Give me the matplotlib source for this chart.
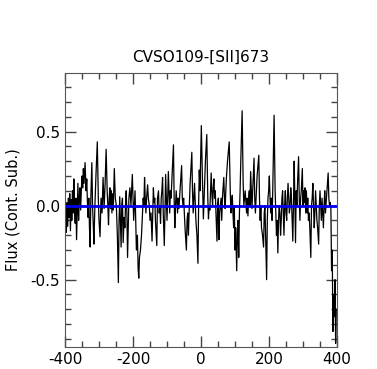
import numpy as np
import matplotlib
matplotlib.use("Agg")
import matplotlib.pyplot as plt
from matplotlib.ticker import MultipleLocator

plt.rcParams['axes.unicode_minus'] = False

# velocity (km/s) and continuum-subtracted flux
vel = [-400, -398, -396, -394, -392, -390, -388, -386, -384, -382, -380, -378, -376, -374,
       -372, -370, -368, -366, -364, -362, -360, -358, -356, -354, -352, -350, -348, -346,
       -344, -341, -338, -336, -334, -332, -330, -328, -326, -324, -321, -319, -317, -315,
       -312, -309, -305, -302, -300, -297, -294, -291, -288, -285, -282, -279, -276, -274,
       -272, -270, -268, -266, -264, -262, -260, -258, -255, -252, -249, -246, -243, -241,
       -239, -237, -235, -233, -231, -229, -226, -224, -222, -220, -218, -216, -214, -212,
       -209, -206, -202, -200, -198, -196, -194, -192, -190, -187, -185, -183, -181, -178,
       -175, -172, -170, -168, -166, -164, -162, -160, -157, -155, -152, -150, -147, -144,
       -142, -140, -138, -136, -134, -130, -128, -125, -123, -121, -119, -117, -115, -113,
       -111, -108, -106, -104, -102, -100, -98, -96, -94, -92, -90, -88, -85, -81, -79, -77,
       -75, -73, -71, -69, -67, -65, -63, -61, -57, -55, -53, -51, -49, -47, -43, -41, -39,
       -37, -35, -32, -27, -25, -23, -21, -19, -17, -15, -12, -9, -7, -5, -3, 1, 4, 7, 10,
       13, 17, 20, 22, 24, 26, 28, 30, 32, 34, 36, 38, 40, 42, 44, 47, 49, 51, 53, 55, 57,
       59, 61, 63, 65, 67, 69, 71, 73, 75, 78, 83, 86, 88, 90, 92, 94, 96, 98, 100, 102,
       105, 107, 109, 111, 113, 115, 117, 121, 124, 126, 128, 130, 132, 134, 136, 138, 140,
       142, 144, 146, 148, 150, 152, 156, 158, 160, 162, 165, 170, 172, 174, 176, 178, 181,
       184, 186, 188, 190, 193, 195, 197, 199, 201, 203, 205, 207, 209, 211, 215, 218, 220,
       222, 224, 226, 228, 230, 232, 234, 236, 238, 240, 242, 244, 246, 248, 250, 252, 254,
       256, 258, 260, 262, 264, 266, 268, 270, 272, 274, 276, 278, 280, 282, 284, 287, 289,
       291, 293, 295, 298, 300, 302, 304, 306, 308, 310, 312, 314, 316, 318, 320, 323, 325,
       327, 329, 331, 333, 335, 337, 339, 341, 343, 346, 348, 350, 352, 354, 356, 358, 360,
       362, 364, 366, 368, 370, 374, 376, 378, 380, 382, 384, 386, 388, 390, 392, 394, 396,
       398]
flux = [-0.12, -0.05, -0.18, 0.02, -0.14, 0.05, -0.08, 0.08, -0.17, 0.04, -0.10, 0.10, -0.05, 0.18,
        0.00, -0.12, 0.05, -0.23, -0.05, 0.15, -0.10, 0.05, 0.12, -0.03, 0.10, 0.20, 0.12, 0.25,
        0.15, 0.29, 0.10, 0.18, 0.02, -0.08, 0.05, -0.15, -0.28, 0.05, 0.29, 0.00, -0.12, -0.26,
        0.00, 0.20, 0.43, 0.05, -0.10, -0.21, 0.05, -0.05, 0.19, -0.02, 0.15, 0.38, 0.10, 0.00,
        -0.13, 0.05, 0.12, -0.02, 0.10, -0.05, 0.08, -0.03, 0.25, 0.05, 0.00, -0.20, -0.52, -0.10,
        0.06, -0.12, -0.28, 0.00, 0.05, -0.25, -0.08, -0.15, 0.00, 0.10, -0.05, -0.35, -0.15, 0.05,
        0.12, 0.00, 0.21, 0.05, -0.10, 0.00, 0.10, -0.10, -0.30, -0.20, -0.42, -0.49, -0.35, -0.30,
        -0.20, -0.05, 0.05, 0.00, 0.19, 0.05, -0.05, 0.05, 0.14, 0.05, 0.00, -0.10, -0.05, -0.24,
        -0.05, 0.12, 0.02, 0.05, -0.10, -0.27, 0.05, 0.10, -0.05, 0.00, -0.12, 0.05, 0.10, 0.19,
        -0.05, -0.27, -0.05, 0.21, 0.05, -0.10, 0.05, 0.23, 0.10, -0.05, 0.10, 0.05, 0.20, 0.41, 0.05, -0.15,
        0.00, 0.10, 0.02, -0.05, 0.05, -0.02, 0.05, 0.12, 0.27, 0.05, 0.00, 0.05, -0.05, -0.15, -0.30, -0.10, -0.05,
        -0.20, -0.05, 0.15, 0.36, 0.10, -0.05, 0.05, 0.15, 0.02, -0.10, -0.20, -0.39, 0.00, 0.24, 0.10, 0.54, 0.20, -0.09, 0.10,
        0.30, 0.48, 0.05, -0.09, 0.00, -0.03, 0.10, 0.22, 0.08, 0.00, 0.12, 0.18, 0.05, 0.10, -0.05, -0.24, 0.00, 0.05, -0.23, -0.05, 0.00,
        0.05, -0.10, 0.05, 0.12, 0.19, 0.05, -0.02, 0.10, 0.20, 0.30, 0.43, 0.10, -0.05, 0.02, 0.07, -0.05, -0.15, 0.00, -0.30, -0.15,
        -0.44, -0.20, -0.10, -0.35, -0.05, 0.10, 0.30, 0.64, 0.15, 0.00, 0.05, 0.10, 0.02, -0.05, 0.05, -0.07, 0.05,
        0.10, 0.00, 0.23, 0.10, -0.02, 0.10, 0.32, 0.05, -0.05, 0.05, 0.20, 0.34, 0.05, -0.10, 0.00, -0.15, -0.20,
        -0.28, -0.05, 0.00, -0.20, -0.50, -0.10, 0.05, 0.10, 0.20, 0.05, -0.05, 0.05, -0.10, 0.10, 0.61, 0.10, -0.05,
        -0.20, -0.10, -0.32, -0.10, 0.00, -0.05, -0.20, -0.10, 0.05, 0.10, -0.05, -0.20, 0.00, 0.10, -0.05, -0.10, 0.05,
        0.15, 0.05, -0.05, 0.00, 0.12, 0.05, -0.10, -0.24, 0.00, 0.30, 0.05, -0.25, 0.10, 0.00, 0.15, 0.33, 0.05,
        -0.10, 0.05, 0.10, 0.25, 0.00, 0.10, 0.02, 0.12, -0.05, 0.10, -0.05, 0.05, -0.10, -0.05, -0.15, -0.35, 0.00,
        0.05, 0.15, 0.00, -0.15, -0.05, 0.10, 0.00, -0.10, -0.15, -0.26, 0.00, 0.10, 0.00, -0.10, 0.05, -0.05, -0.15,
        0.00, 0.10, -0.05, 0.02, 0.10, 0.22, 0.05, 0.00, 0.02, -0.02, -0.44, -0.30, -0.85, -0.60, -0.75, -0.50, -0.93,
        -0.70]

fig = plt.figure(figsize=(3.77, 3.69), dpi=100)
ax = fig.add_axes([0.1724, 0.0596, 0.7215, 0.7425])

ax.plot(vel, flux, '-k', lw=0.9)
ax.axhline(0.0, color='#0000ee', lw=2)

ax.set_xlim(-400, 400)
ax.set_ylim(-0.955, 0.895)
ax.xaxis.set_major_locator(MultipleLocator(200))
ax.xaxis.set_minor_locator(MultipleLocator(50))
ax.yaxis.set_major_locator(MultipleLocator(0.5))
ax.yaxis.set_minor_locator(MultipleLocator(0.1))
ax.yaxis.set_major_formatter(matplotlib.ticker.FormatStrFormatter('%.1f'))
ax.tick_params(which='both', direction='in', top=True, right=True, colors='#444444',
               labelcolor='black', labelsize=11)
ax.tick_params(which='major', length=8, width=1)
ax.tick_params(which='minor', length=4.5, width=1)
for s in ax.spines.values():
    s.set_color('#555555')

ax.set_title('CVSO109-[SII]673', fontsize=11, pad=8)
ax.set_ylabel('Flux (Cont. Sub.)', fontsize=10.5)
ax.yaxis.set_label_coords(-0.165, 0.5)

plt.savefig('out.png', dpi=100)
